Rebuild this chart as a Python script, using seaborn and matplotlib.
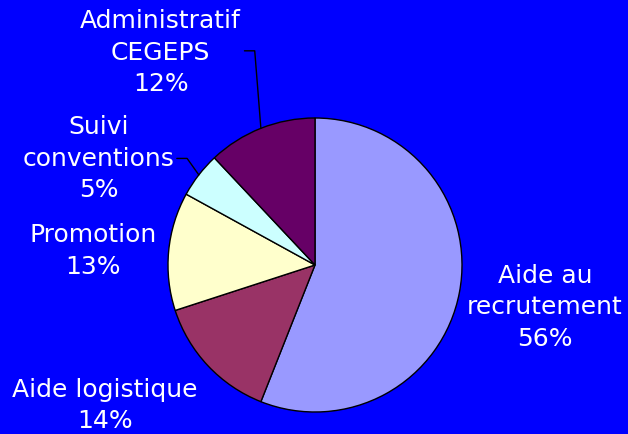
import numpy as np
import seaborn as sns
import matplotlib
matplotlib.use("Agg")
import matplotlib.pyplot as plt

# Data
labels = ['Aide au\nrecrutement', 'Aide logistique', 'Promotion', 'Suivi\nconventions', 'Administratif\nCEGEPS']
shares = [56, 14, 13, 5, 12]
colors = ['#9999FF', '#993366', '#FFFFCC', '#CCFFFF', '#660066']

# label placement (data units, pie radius = 1)
label_xy = [(1.565, -0.28), (-1.43, -0.95), (-1.51, 0.10), (-1.47, 0.73), (-1.05, 1.45)]
leader = [False, False, False, True, True]
leader_end = {3: (-0.87, 0.725), 4: (-0.41, 1.457)}

sns.set_theme(style='white')
plt.rcParams['font.family'] = ['DejaVu Sans']

fig = plt.figure(figsize=(6.28, 4.35), dpi=100)
fig.patch.set_facecolor('#0000FF')
ax = fig.add_axes([0, 0, 1, 1])
ax.set_facecolor('#0000FF')

wedges, _ = ax.pie(shares, colors=colors, startangle=90, counterclock=False,
                   wedgeprops=dict(edgecolor='black', linewidth=1.0))

for i, w in enumerate(wedges):
    ax.text(label_xy[i][0], label_xy[i][1], f'{labels[i]}\n{shares[i]}%',
            ha='center', va='center', color='white', fontsize=18, linespacing=1.4)
    if leader[i]:
        mid = np.deg2rad((w.theta1 + w.theta2) / 2)
        ex, ey = np.cos(mid), np.sin(mid)
        tx, ty = leader_end[i]
        ax.plot([ex, tx, tx - 0.07], [ey, ty, ty], color='black', lw=1)

ax.set_xlim(-315 / 147, (628 - 315) / 147)
ax.set_ylim(-(435 - 266) / 147, 266 / 147)
ax.set_aspect('equal')
ax.axis('off')

fig.savefig('out.png', dpi=100, facecolor=fig.get_facecolor())
